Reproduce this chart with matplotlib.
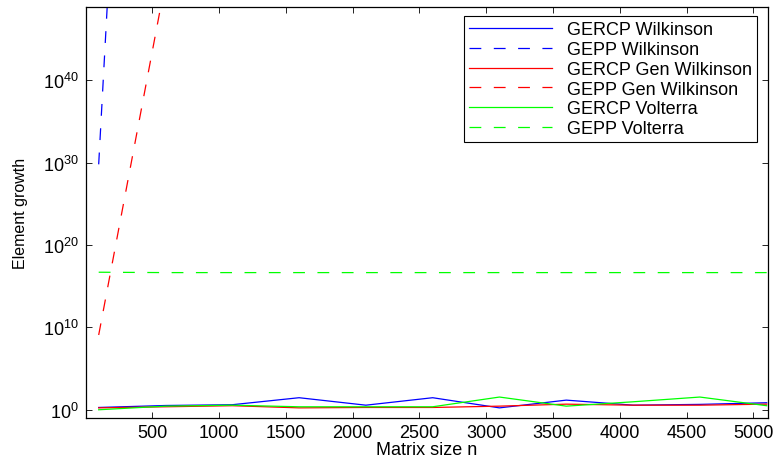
"""Element growth of GEPP vs GERCP on Wilkinson-type matrices."""

import matplotlib
matplotlib.use("Agg")
import matplotlib.pyplot as plt

plt.rcParams["font.family"] = ["Liberation Sans", "DejaVu Sans"]
plt.rcParams["mathtext.default"] = "regular"
plt.rcParams["lines.scale_dashes"] = False

# matrix sizes
n = [100, 600, 1100, 1600, 2100, 2600, 3100, 3600, 4100, 4600, 5100]

# GERCP growth
gercp_wilkinson = [1.9, 3.3, 4.1, 29.0, 3.6, 29.0, 1.7, 14.8, 3.6, 4.5, 7.1]
gercp_gen_wilkinson = [1.7, 2.3, 3.1, 1.7, 1.9, 1.9, 2.75, 4.8, 3.6, 3.6, 4.8]
gercp_volterra = [1.0, 2.75, 3.6, 2.3, 2.3, 2.3, 35.0, 2.75, 9.3, 35.0, 3.1]

# GEPP growth: the Wilkinson ones leave the axes after the second size
gepp_n = [100, 600]
gepp_wilkinson = [6.3e29, 1.0e180]
gepp_gen_wilkinson = [1.2e9, 1.0e52]
gepp_volterra = [5.0e16, 4.5e16, 4.5e16, 4.5e16, 4.5e16, 4.5e16,
                 4.5e16, 4.5e16, 4.5e16, 4.5e16, 4.5e16]

x_ticks = [500, 1000, 1500, 2000, 2500, 3000, 3500, 4000, 4500, 5000]
y_ticks = [1e0, 1e10, 1e20, 1e30, 1e40]

FS = 13
DASH = (8.5, 9.0)

fig = plt.figure(figsize=(7.79, 4.60), dpi=100)
ax = fig.add_axes([86 / 779, 41 / 460, 682 / 779, 411 / 460])

lw = 0.9
ax.plot(n, gercp_wilkinson, color=(0, 0, 1), lw=lw, label="GERCP Wilkinson")
ax.plot(gepp_n, gepp_wilkinson, color=(0, 0, 1), lw=lw, dashes=DASH,
        label="GEPP Wilkinson")
ax.plot(n, gercp_gen_wilkinson, color=(1, 0, 0), lw=lw,
        label="GERCP Gen Wilkinson")
ax.plot(gepp_n, gepp_gen_wilkinson, color=(1, 0, 0), lw=lw, dashes=DASH,
        label="GEPP Gen Wilkinson")
ax.plot(n, gercp_volterra, color=(0, 1, 0), lw=lw, label="GERCP Volterra")
ax.plot(n, gepp_volterra, color=(0, 1, 0), lw=lw, dashes=DASH,
        label="GEPP Volterra")

ax.set_yscale("log")
ax.set_xlim(5, 5110)
ax.set_ylim(1e-1, 10 ** 48.9)
ax.set_xticks(x_ticks)
ax.set_yticks(y_ticks)
ax.minorticks_off()
ax.tick_params(direction="in", top=True, right=True, length=4, width=0.6,
               labelsize=FS, pad=5)
ax.tick_params(axis="x", pad=4)
for spine in ax.spines.values():
    spine.set_linewidth(0.9)

ax.set_xlabel("Matrix size n", fontsize=FS, labelpad=0)
ax.set_ylabel("Element growth", fontsize=11.5, labelpad=11)

leg = ax.legend(loc="upper right", bbox_to_anchor=(757 / 779, 1 - 17 / 460),
                bbox_transform=fig.transFigure, borderaxespad=0,
                fontsize=FS, handlelength=4.6, handletextpad=0.8,
                borderpad=0.3, labelspacing=0.15, fancybox=False,
                framealpha=1)
leg.get_frame().set_edgecolor("black")
leg.get_frame().set_linewidth(0.8)

fig.savefig("out.png", dpi=100)
